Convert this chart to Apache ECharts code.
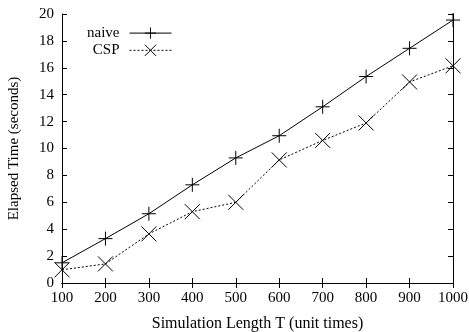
<!DOCTYPE html>
<html>
<head>
<meta charset="utf-8">
<script src="https://cdn.jsdelivr.net/npm/echarts@6/dist/echarts.min.js"></script>
<style>
  html, body { margin: 0; padding: 0; background: #fff; }
  #chart { width: 469px; height: 332px; }
</style>
</head>
<body>
<div id="chart"></div>
<script>
// sim length T (unit times)
const lengths = [100, 200, 300, 400, 500, 600, 700, 800, 900, 1000];
const naive = [1.5, 3.3, 5.15, 7.3, 9.3, 10.95, 13.1, 15.35, 17.45, 19.55];
const csp = [0.98, 1.42, 3.65, 5.3, 6.0, 9.15, 10.6, 11.9, 14.95, 16.15];

const FONT = "Liberation Serif";
const PLUS = "path://M0,5L10,5M5,0L5,10";
const CROSS = "path://M0,0L10,10M10,0L0,10";

const pairs = (ys) => lengths.map((x, i) => [x, ys[i]]);

const tickAxis = {
  axisLine: { lineStyle: { color: "#000", width: 1 } },
  axisTick: { inside: true, length: 5, lineStyle: { color: "#000" } },
  splitLine: { show: false },
};
const label = { fontFamily: FONT, fontSize: 15, color: "#000", margin: 8 };

const chart = echarts.init(document.getElementById("chart"), null, { renderer: "canvas" });
chart.setOption({
  animation: false,
  backgroundColor: "#fff",
  textStyle: { fontFamily: FONT, color: "#000" },
  grid: { left: 62, right: 16, top: 14, bottom: 49, containLabel: false, outerBoundsMode: "none" },
  legend: {
    left: 82,
    top: 20,
    orient: "vertical",
    align: "right",
    itemWidth: 42,
    itemHeight: 14,
    itemGap: 1,
    itemStyle: { borderWidth: 1 },
    lineStyle: { width: 1 },
    textStyle: { fontFamily: FONT, fontSize: 15, color: "#000", padding: [0, 5, 0, 0] },
    data: ["naive", "CSP"],
  },
  xAxis: [
    {
      ...tickAxis,
      type: "value",
      min: 100, max: 1000, interval: 100,
      name: "Simulation Length T (unit times)",
      nameLocation: "middle",
      nameGap: 33,
      nameTextStyle: { fontFamily: FONT, fontSize: 16, color: "#000" },
      axisLabel: { ...label, formatter: (v) => String(v) },
    },
    {
      ...tickAxis,
      type: "value",
      position: "top",
      min: 100, max: 1000, interval: 100,
      axisLabel: { show: false },
    },
  ],
  yAxis: [
    {
      ...tickAxis,
      type: "value",
      min: 0, max: 20, interval: 2,
      name: "Elapsed Time (seconds)",
      nameLocation: "middle",
      nameGap: 40,
      nameTextStyle: { fontFamily: FONT, fontSize: 15, color: "#000" },
      axisLabel: { ...label, margin: 8 },
    },
    {
      ...tickAxis,
      type: "value",
      position: "right",
      min: 0, max: 20, interval: 2,
      axisLabel: { show: false },
    },
  ],
  series: [
    {
      name: "naive",
      type: "line",
      data: pairs(naive),
      symbol: PLUS,
      symbolSize: 14,
      lineStyle: { color: "#000", width: 1 },
      itemStyle: { color: "none", borderColor: "#000", borderWidth: 1 },
    },
    {
      name: "CSP",
      type: "line",
      data: pairs(csp),
      symbol: CROSS,
      symbolSize: 15,
      lineStyle: { color: "#000", width: 1, type: [2, 2] },
      itemStyle: { color: "none", borderColor: "#000", borderWidth: 1 },
    },
  ],
});
</script>
</body>
</html>
